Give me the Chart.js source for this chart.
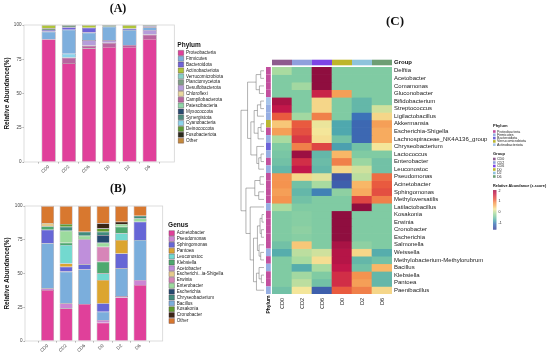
<!DOCTYPE html>
<html>
<head>
<meta charset="utf-8">
<title>Microbial composition</title>
<script src="https://cdn.jsdelivr.net/npm/chart.js@4.4.1/dist/chart.umd.min.js"></script>
<style>
  body { margin: 0; background: #fff; }
  #wrap { position: relative; width: 550px; height: 354px; overflow: hidden; }
  canvas { position: absolute; }
</style>
</head>
<body>
<div id="wrap">
  <canvas id="phylumChart" width="240" height="178" style="left:0;top:0"></canvas>
  <canvas id="genusChart" width="240" height="178" style="left:0;top:176px"></canvas>
  <canvas id="heatChart" width="310" height="354" style="left:240px;top:0"></canvas>
</div>
<script>
const FONT = '"Liberation Sans", Arial, sans-serif';

// Samples shared by all three panels
const groups = ['CD0', 'CD2', 'CD6', 'D0', 'D2', 'D6'];
const abundanceTicks = [0, 25, 50, 75, 100];

// (A) phylum relative abundance (%), stack order bottom -> top
const phyla = ['Proteobacteria', 'Campilobacterota', 'Desulfobacterota', 'Cyanobacteria', 'Firmicutes',
  'Bacteroidota', 'Planctomycetota', 'Actinobacteriota', 'Verrucomicrobiota', 'Chloroflexi',
  'Patescibacteria', 'Myxococcota', 'Synergistota', 'Deinococcota', 'Fusobacteriota', 'Other'];
const phylumPct = [
  [89.6, 72.2, 83.0, 84.0, 84.0, 89.8],
  [0, 4.0, 2.0, 3.0, 1.4, 3.2],
  [0, 0, 4.0, 2.0, 0, 3.4],
  [0, 2.8, 0, 0, 0, 0],
  [5.6, 17.6, 5.5, 9.8, 11.0, 1.9],
  [1.2, 1.8, 3.5, 0, 1.0, 0.8],
  [1.2, 1.6, 0, 1.2, 0, 0.9],
  [2.4, 0, 2.0, 0, 2.6, 0],
  [0, 0, 0, 0, 0, 0],
  [0, 0, 0, 0, 0, 0],
  [0, 0, 0, 0, 0, 0],
  [0, 0, 0, 0, 0, 0],
  [0, 0, 0, 0, 0, 0],
  [0, 0, 0, 0, 0, 0],
  [0, 0, 0, 0, 0, 0],
  [0, 0, 0, 0, 0, 0]
];
const phylumLegend = ['Proteobacteria', 'Firmicutes', 'Bacteroidota', 'Actinobacteriota', 'Verrucomicrobiota',
  'Planctomycetota', 'Desulfobacterota', 'Chloroflexi', 'Campilobacterota', 'Patescibacteria',
  'Myxococcota', 'Synergistota', 'Cyanobacteria', 'Deinococcota', 'Fusobacteriota', 'Other'];

// (B) genus relative abundance (%), stack order bottom -> top
const genera = ['Acinetobacter', 'Pseudomonas', 'Bacillus', 'Sphingomonas', 'Pantoea', 'Acetobacter',
  'Leuconostoc', 'Klebsiella', 'Erwinia', 'Enterobacter', 'Escherichia', 'Chryseobacterium',
  'Escherichi...ia-Shigella', 'Kosakonia', 'Cronobacter', 'Other'];
const genusPct = [
  [37.8, 24.2, 27.4, 13.6, 32.3, 41.5],
  [1.2, 3.7, 0, 2.0, 1.0, 3.7],
  [33.5, 23.5, 25.6, 6.1, 20.5, 29.6],
  [10.0, 3.6, 3.8, 6.2, 11.1, 13.6],
  [0, 2.5, 0, 17.3, 9.9, 0],
  [0, 0, 18.5, 0, 0, 0],
  [0, 13.6, 0, 4.9, 5.0, 0],
  [2.5, 1.7, 0, 8.7, 4.9, 0],
  [0, 0, 0, 11.1, 0, 0],
  [0, 8.9, 2.7, 2.9, 2.0, 2.4],
  [0, 0, 0, 5.7, 0, 0],
  [0, 3.0, 3.0, 2.5, 0, 2.0],
  [2.5, 0, 0, 0, 0, 0],
  [0, 2.0, 0, 2.5, 0, 0],
  [0, 0, 0, 3.7, 1.7, 0],
  [12.5, 13.3, 19.0, 12.8, 11.6, 7.2]
];
const genusLegend = ['Acinetobacter', 'Pseudomonas', 'Sphingomonas', 'Pantoea', 'Leuconostoc', 'Klebsiella',
  'Acetobacter', 'Escherichi...ia-Shigella', 'Erwinia', 'Enterobacter', 'Escherichia', 'Chryseobacterium',
  'Bacillus', 'Kosakonia', 'Cronobacter', 'Other'];

// (C) heatmap rows, their phylum and z-scores per sample
const heatGenera = ['Delftia', 'Acetobacter', 'Comamonas', 'Gluconobacter', 'Bifidobacterium', 'Streptococcus',
  'Ligilactobacillus', 'Akkermansia', 'Escherichia-Shigella', 'Lachnospiraceae_NK4A136_group', 'Chryseobacterium',
  'Lactococcus', 'Enterobacter', 'Leuconostoc', 'Pseudomonas', 'Acinetobacter', 'Sphingomonas', 'Methyloversatilis',
  'Latilactobacillus', 'Kosakonia', 'Erwinia', 'Cronobacter', 'Escherichia', 'Salmonella', 'Weissella',
  'Methylobacterium-Methylorubrum', 'Bacillus', 'Klebsiella', 'Pantoea', 'Paenibacillus'];
const P = 'Proteobacteria', F = 'Firmicutes', B = 'Bacteroidota', V = 'Verrucomicrobiota', A = 'Actinobacteriota';
const heatPhylum = [P, P, P, P, A, F, F, V, P, F, B, F, P, F, P, P, P, P, F, P, P, P, P, P, F, P, F, P, P, F];
const zCD0 = [-0.1, -0.4, -0.4, -0.4, 2.0, 1.8, 1.2, 0.5, 0.8, -0.1, -0.4, -0.45, -0.5, -0.6, 0.9,
  0.9, 0.8, 0.9, -0.1, -0.4, -0.4, -0.4, -0.4, -0.5, -0.7, -0.4, -0.4, -0.4, -0.4, -0.5];
const zCD2 = [-0.4, -0.4, -0.15, -0.4, -0.4, -0.4, -0.15, 1.2, 1.3, 1.5, 1.0, 2.1, 1.6, 1.8, 0.4,
  -0.5, -0.6, -0.5, -0.4, -0.35, -0.35, -0.3, -0.35, 0.5, 0.0, -0.1, -0.7, -0.15, 0.0, 0.3];
const zCD6 = [2.2, 2.2, 2.2, 1.7, 0.4, 0.4, 1.0, 0.25, 0.3, 0.35, 1.4, -0.6, -0.55, -0.6, 0.2,
  -0.1, -1.0, -0.4, -0.4, -0.4, -0.4, -0.4, -0.4, -0.4, 0.1, 0.35, -0.1, -0.4, -0.5, -1.3];
const zD0 = [-0.4, -0.4, -0.4, 0.8, -0.4, -0.4, -0.4, -0.75, -0.75, -0.5, -0.8, 0.6, 1.0, 0.4, -1.4,
  -1.3, -0.3, -0.4, -0.4, 2.2, 2.2, 2.2, 2.2, 2.0, 1.9, 1.9, 1.8, 1.6, 1.6, 1.2];
const zD2 = [-0.4, -0.4, -0.4, -0.4, -0.6, -0.6, -1.1, -1.2, -1.2, -1.2, -0.5, -0.4, -0.2, 0.1, 0.0,
  0.6, 0.7, 1.4, 2.2, -0.4, -0.4, -0.4, -0.4, -0.3, 0.4, -0.6, -0.5, 0.9, 0.8, 1.0];
const zD6 = [-0.4, -0.4, -0.4, -0.4, -0.4, 0.1, 0.4, 0.8, 0.7, 0.7, 0.3, -0.4, -0.5, -0.5, 1.1,
  1.2, 1.3, 1.0, -0.4, -0.4, -0.4, -0.4, -0.4, -0.4, -0.7, -0.5, 0.6, -0.6, -0.6, 0.4];
const zScoreTicks = [2, 1, 0, -1];
const heatPhylumLegend = [P, F, B, V, A];

// Row clustering: leaf = row index, node = [left, right, height]
const rowTree = [
  [[[0, 1, 1.0], [2, 3, 1.4], 2.4],
   [[[[4, 5, 1.0], 6, 2.0], [[7, 8, 0.9], 9, 1.8], 3.0], [10, [[11, 12, 0.9], 13, 1.6], 2.2], 4.0], 5.0],
  [[[14, 15, 1.2], [16, 17, 1.6], 2.8],
   [18, [[[[19, 20, 0.6], [21, 22, 0.8], 1.2], [23, [24, 25, 1.0], 1.5], 2.0],
         [[26, [27, 28, 0.8], 1.5], 29, 2.3], 3.2], 4.2], 5.5],
  7.0];

// Colours
const phylumFill = {
  Proteobacteria: '#e0409a', Firmicutes: '#7eafdd', Bacteroidota: '#6f63d8', Actinobacteriota: '#afc43a',
  Verrucomicrobiota: '#86d0c6', Planctomycetota: '#7e9f86', Desulfobacterota: '#b59dda', Chloroflexi: '#e8d89e',
  Campilobacterota: '#b8649f', Patescibacteria: '#8ed6a8', Myxococcota: '#274b71', Synergistota: '#4e8c7e',
  Cyanobacteria: '#8bd4ec', Deinococcota: '#5e9b34', Fusobacteriota: '#2a2a1c', Other: '#c4893b'
};
const genusFill = {
  Acinetobacter: '#e0409a', Pseudomonas: '#cc86d4', Bacillus: '#7baedc', Sphingomonas: '#6666d6',
  Pantoea: '#dca52f', Acetobacter: '#bf8fdb', Leuconostoc: '#73d9cf', Klebsiella: '#4ea96f',
  Erwinia: '#d785b8', Enterobacter: '#9cdb9e', Escherichia: '#25496f', Chryseobacterium: '#418b7c',
  'Escherichi...ia-Shigella': '#e6cb8d', Kosakonia: '#5e9a2f', Cronobacter: '#3b2414', Other: '#d8782f'
};
const stripFill = {
  Proteobacteria: '#c2509e', Firmicutes: '#96aee2', Bacteroidota: '#6c63d9',
  Verrucomicrobiota: '#bab632', Actinobacteriota: '#a6c5ea'
};
const groupFill = { CD0: '#8e5b8e', CD2: '#8fa0dd', CD6: '#7d45e6', D0: '#bdb52a', D2: '#8ec3dc', D6: '#6e9e74' };
const zStops = [[-1.5, '#3f4ba0'], [-1.1, '#3c72b8'], [-0.75, '#4fa8ae'], [-0.4, '#80cba3'], [-0.1, '#a9dba0'],
  [0.3, '#f4e69a'], [0.6, '#f8b767'], [0.9, '#f4934f'], [1.2, '#e95a3f'], [1.5, '#d83a45'],
  [1.8, '#c2174a'], [2.2, '#8f0e3f']];

function hexToRgb(h) {
  const n = parseInt(h.slice(1), 16);
  return [(n >> 16) & 255, (n >> 8) & 255, n & 255];
}

// Map a z-score onto the heatmap palette
function zColor(z) {
  if (z <= zStops[0][0]) return zStops[0][1];
  for (let i = 1; i < zStops.length; i++) {
    if (z <= zStops[i][0]) {
      const [z0, c0] = zStops[i - 1];
      const [z1, c1] = zStops[i];
      const t = (z - z0) / (z1 - z0);
      const a = hexToRgb(c0), b = hexToRgb(c1);
      return 'rgb(' + a.map((v, k) => Math.round(v + (b[k] - v) * t)).join(',') + ')';
    }
  }
  return zStops[zStops.length - 1][1];
}

// Light grey border round the plotting panel
const panelFrame = {
  id: 'panelFrame',
  afterDatasetsDraw(chart) {
    const { ctx, chartArea: a } = chart;
    ctx.save();
    ctx.strokeStyle = '#d4d4d4';
    ctx.lineWidth = 0.8;
    ctx.strokeRect(a.left, a.top, a.right - a.left, a.bottom - a.top);
    ctx.restore();
  }
};

// Panel letter such as (A)
const panelTag = {
  id: 'panelTag',
  afterDraw(chart, args, opts) {
    const ctx = chart.ctx;
    ctx.save();
    ctx.font = 'bold ' + opts.size + 'px "Liberation Serif", "DejaVu Serif", serif';
    ctx.fillStyle = '#111';
    ctx.textAlign = 'center';
    ctx.textBaseline = 'middle';
    ctx.fillText(opts.text, opts.x, opts.y);
    ctx.restore();
  }
};

// Stacked relative-abundance chart used by panels A and B
function abundanceChart(canvasId, tag, names, rows, fills, legendTitle, legendOrder, g) {
  const datasets = names.map((name, i) => ({
    label: name,
    data: rows[i].map((v, j) => ({ x: j + 1, y: v })),
    backgroundColor: fills[name],
    borderColor: 'rgba(70,45,60,0.55)',
    borderWidth: 0.6,
    categoryPercentage: 1,
    barPercentage: 0.7
  }));

  return new Chart(document.getElementById(canvasId), {
    type: 'bar',
    data: { datasets },
    options: {
      responsive: false,
      animation: false,
      layout: { padding: { top: g.top, right: g.padRight, left: 0, bottom: 0 } },
      plugins: {
        tooltip: { enabled: false },
        legend: {
          position: 'right',
          align: 'start',
          maxWidth: 200,
          title: {
            display: true, text: legendTitle, position: 'start', color: '#111',
            font: { family: FONT, size: 6.5, weight: 'bold' },
            padding: { top: g.legendTop, bottom: 0 }
          },
          labels: {
            boxWidth: 5.5, boxHeight: 5, padding: 0.85, color: '#222',
            font: { family: FONT, size: 4.6 },
            sort: (a, b) => legendOrder.indexOf(a.text) - legendOrder.indexOf(b.text)
          }
        },
        panelTag: { text: tag, x: g.tagX, y: g.tagY, size: 12 }
      },
      scales: {
        x: {
          type: 'linear', min: 0.4, max: 6.6, stacked: true,
          afterBuildTicks: s => { s.ticks = groups.map((_, i) => ({ value: i + 1 })); },
          afterFit: s => { s.height = g.xHeight; },
          ticks: {
            autoSkip: false, minRotation: 45, maxRotation: 45, padding: 0.5, color: '#444',
            font: { family: FONT, size: 4.6 },
            callback: v => groups[v - 1]
          },
          grid: { drawOnChartArea: false, tickLength: 1.5, color: '#444', lineWidth: 0.5 },
          border: { display: false }
        },
        y: {
          min: 0, max: 100, stacked: true,
          afterBuildTicks: s => { s.ticks = abundanceTicks.map(v => ({ value: v })); },
          afterFit: s => { s.width = g.yWidth; },
          ticks: { padding: 1, color: '#444', font: { family: FONT, size: 4.6 } },
          grid: { drawOnChartArea: false, tickLength: 1.5, color: '#444', lineWidth: 0.5 },
          border: { display: false },
          title: {
            display: true, text: 'Relative Abundance(%)', color: '#111',
            font: { family: FONT, size: 6.5, weight: 'bold' },
            padding: { top: 3.5, bottom: 0 }
          }
        },
        gap: {
          type: 'linear', position: 'right',
          afterFit: s => { s.width = g.gap; },
          ticks: { display: false }, grid: { display: false }, border: { display: false }
        }
      }
    },
    plugins: [panelFrame, panelTag]
  });
}

abundanceChart('phylumChart', '(A)', phyla, phylumPct, phylumFill, 'Phylum', phylumLegend,
  { top: 25, padRight: 7, legendTop: 16.75, xHeight: 16, yWidth: 24, gap: 3, tagX: 118, tagY: 9 });

abundanceChart('genusChart', '(B)', genera, genusPct, genusFill, 'Genus', genusLegend,
  { top: 30, padRight: 6.8, legendTop: 16, xHeight: 13, yWidth: 25, gap: 5.4, tagX: 118, tagY: 13 });

// Small key block for the heatmap legends
function drawKey(ctx, x, y, title, names, fills, step) {
  ctx.textAlign = 'left';
  ctx.textBaseline = 'middle';
  ctx.font = 'bold 4px ' + FONT;
  ctx.fillStyle = '#111';
  ctx.fillText(title, x, y);
  ctx.font = '3.6px ' + FONT;
  names.forEach((n, i) => {
    const cy = y + 5.5 + i * step;
    ctx.fillStyle = fills[n];
    ctx.fillRect(x, cy - 1.3, 2.6, 2.6);
    ctx.fillStyle = '#222';
    ctx.fillText(n, x + 4, cy);
  });
}

// Annotations of panel C: group strip, phylum strip, dendrogram and legends
const heatDecor = {
  id: 'heatDecor',
  afterDraw(chart) {
    const { ctx, chartArea: a, scales: { x, y } } = chart;
    const cellW = x.getPixelForValue(1) - x.getPixelForValue(0);
    const rowTop = i => y.getPixelForValue(i);
    const rowMid = i => y.getPixelForValue(i + 0.5);
    ctx.save();

    groups.forEach((g, i) => {
      ctx.fillStyle = groupFill[g];
      ctx.fillRect(x.getPixelForValue(i) - cellW / 2, a.top - 7.3, cellW, 5.6);
    });
    ctx.fillStyle = '#111';
    ctx.font = 'bold 6px ' + FONT;
    ctx.textAlign = 'left';
    ctx.textBaseline = 'middle';
    ctx.fillText('Group', a.right + 2, a.top - 4.3);

    heatPhylum.forEach((p, i) => {
      ctx.fillStyle = stripFill[p];
      ctx.fillRect(a.left - 6, rowTop(i), 4.8, rowTop(i + 1) - rowTop(i));
    });

    // dendrogram
    const leafX = a.left - 8, treeW = 23, treeMax = rowTree[2];
    ctx.strokeStyle = '#666';
    ctx.lineWidth = 0.5;
    ctx.beginPath();
    const walk = node => {
      if (typeof node === 'number') return { x: leafX, y: rowMid(node) };
      const L = walk(node[0]), R = walk(node[1]);
      const nx = leafX - node[2] / treeMax * treeW;
      ctx.moveTo(L.x, L.y); ctx.lineTo(nx, L.y); ctx.lineTo(nx, R.y); ctx.lineTo(R.x, R.y);
      return { x: nx, y: (L.y + R.y) / 2 };
    };
    walk(rowTree);
    ctx.stroke();

    ctx.save();
    ctx.translate(a.left - 3.6, a.bottom + 1.5);
    ctx.rotate(-Math.PI / 2);
    ctx.font = 'bold 5px ' + FONT;
    ctx.fillStyle = '#111';
    ctx.textAlign = 'right';
    ctx.fillText('Phylum', 0, 0);
    ctx.restore();

    // legends on the right
    const lx = 253;
    drawKey(ctx, lx, 126, 'Phylum', heatPhylumLegend, stripFill, 3.3);
    drawKey(ctx, lx, 153.5, 'Group', groups, groupFill, 3.5);

    ctx.font = 'bold 3.8px ' + FONT;
    ctx.fillStyle = '#111';
    ctx.textAlign = 'left';
    ctx.fillText('Relative Abundance (z-score)', lx, 186);
    const cbTop = 190, cbBottom = 229.3, cbMax = 2.05, cbMin = -1.6;
    const cbY = v => cbTop + (cbMax - v) / (cbMax - cbMin) * (cbBottom - cbTop);
    for (let py = cbTop; py < cbBottom; py += 0.5) {
      ctx.fillStyle = zColor(cbMax - (py - cbTop) / (cbBottom - cbTop) * (cbMax - cbMin));
      ctx.fillRect(lx, py, 3.4, 0.6);
    }
    ctx.font = '3.6px ' + FONT;
    ctx.fillStyle = '#222';
    zScoreTicks.forEach(v => ctx.fillText(String(v), lx + 5.5, cbY(v)));
    ctx.restore();
  }
};

const zByGroup = [zCD0, zCD2, zCD6, zD0, zD2, zD6];

new Chart(document.getElementById('heatChart'), {
  type: 'bar',
  data: {
    labels: groups,
    datasets: heatGenera.map((name, r) => ({
      label: name,
      data: groups.map(() => 1),
      backgroundColor: zByGroup.map(z => zColor(z[r])),
      borderWidth: 0,
      barPercentage: 1,
      categoryPercentage: 1
    }))
  },
  options: {
    responsive: false,
    animation: false,
    layout: { padding: { left: 32, top: 67, right: 0, bottom: 0 } },
    plugins: {
      legend: { display: false },
      tooltip: { enabled: false },
      panelTag: { text: '(C)', x: 155, y: 22, size: 13 }
    },
    scales: {
      x: {
        stacked: true,
        afterFit: s => { s.height = 60; },
        ticks: { autoSkip: false, minRotation: 90, maxRotation: 90, padding: 4, color: '#222',
          font: { family: FONT, size: 5.5 } },
        grid: { display: false, drawTicks: false },
        border: { display: false }
      },
      y: { stacked: true, min: 0, max: heatGenera.length, reverse: true, display: false },
      rows: {
        type: 'category', labels: heatGenera, position: 'right', offset: true,
        afterFit: s => { s.width = 158; },
        ticks: { autoSkip: false, padding: 2, color: '#1a1a1a', font: { family: FONT, size: 6 } },
        grid: { display: false, drawTicks: false },
        border: { display: false }
      }
    }
  },
  plugins: [heatDecor, panelTag]
});
</script>
</body>
</html>
